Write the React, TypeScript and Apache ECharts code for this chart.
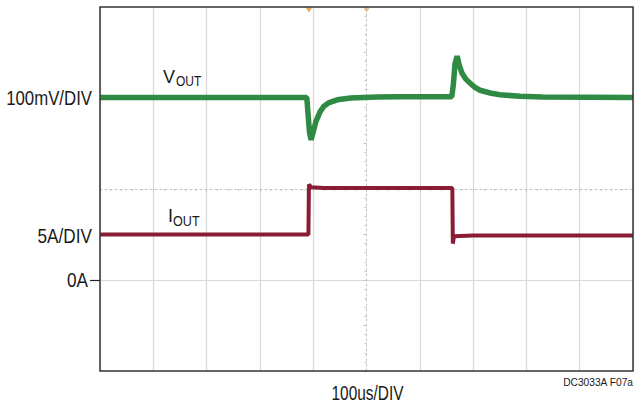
import React, { useEffect, useRef } from "react";
import * as echarts from "echarts";

// time axis: microseconds (100us/DIV, 10 divisions)
const timeTicks = [0, 100, 200, 300, 400, 500, 600, 700, 800, 900, 1000];

// VOUT deviation (mV), 100mV/DIV
const vTime = [0, 388, 390, 393, 396, 400, 405, 413, 420, 430, 445, 470, 520, 560, 600, 660, 663, 666, 670, 674, 679, 686, 694, 703, 713, 732, 750, 788, 830, 1000];
const vMv = [1, 1, -30, -75, -92, -75, -52, -30, -18, -10, -4, 0, 2, 3, 3, 3, 30, 75, 92, 72, 55, 42, 33, 24, 17, 11, 7, 4, 2, 1];

// IOUT (A), 5A/DIV
const iTime = [0, 391, 392, 396, 420, 661, 662, 664, 700, 1000];
const iAmp = [5, 5, 10.5, 10.2, 10.1, 10.1, 4.0, 4.8, 4.9, 4.9];

// trigger markers on the top edge (us)
const markerTime = [392, 500];
const markerColor = ["#e89a2c", "#d9b77a"];

// axis labels
const voltLabel = { value: 0, text: "100mV/DIV" };
const currLabels = [
  { value: 0, text: "0A" },
  { value: 5, text: "5A/DIV" },
];
const timeLabel = { value: 500, text: "100us/DIV" };

const FONT = "'Liberation Sans', Arial, sans-serif";
const INK = "#1a1a1a";

export default function App() {
  const ref = useRef<HTMLDivElement>(null);

  useEffect(() => {
    if (!ref.current) return;
    const chart = echarts.init(ref.current, undefined, { renderer: "svg" });
    const gridColor = "#d8d8d8";
    const centerColor = "#c2c2c2";
    // hide the solid center gridline (drawn dotted by the center axes instead)
    const xSplitColors = timeTicks.map((_, k) => (k === 5 ? "rgba(0,0,0,0)" : gridColor));
    const ySplitColors = [-10, -5, 0, 5, 10, 15, 20, 25, 30].map((v) => (v === 10 ? "rgba(0,0,0,0)" : gridColor));

    chart.setOption({
      animation: false,
      backgroundColor: "#ffffff",
      grid: {
        left: 100,
        right: 2,
        top: 7,
        bottom: 33,
        show: true,
        borderColor: "#333333",
        borderWidth: 1.5,
        backgroundColor: "transparent",
        outerBoundsMode: "none",
        containLabel: false,
        z: 10,
      },
      xAxis: [
        {
          type: "value",
          min: timeTicks[0],
          max: timeTicks[timeTicks.length - 1],
          interval: 100,
          axisLine: { show: false },
          axisTick: { show: false },
          axisLabel: { show: false },
          splitLine: { show: true, lineStyle: { color: xSplitColors, width: 1.2 } },
        },
        {
          type: "value",
          min: 0,
          max: 10,
          interval: 1,
          position: "bottom",
          offset: -182,
          axisLine: { show: true, lineStyle: { color: centerColor, type: [2, 3], width: 1 } },
          axisTick: { show: true, length: 3, lineStyle: { color: centerColor } },
          minorTick: { show: true, splitNumber: 5, length: 2, lineStyle: { color: centerColor } },
          axisLabel: { show: false },
          splitLine: { show: false },
        },
      ],
      yAxis: [
        {
          type: "value",
          min: -10,
          max: 30,
          interval: 5,
          position: "left",
          axisLine: { show: false },
          axisTick: { show: true, customValues: [0], length: 10, lineStyle: { color: "#222", width: 1.2 } },
          axisLabel: { show: false },
          splitLine: { show: true, lineStyle: { color: ySplitColors, width: 1.2 } },
        },
        {
          type: "value",
          min: -600,
          max: 200,
          interval: 100,
          position: "left",
          axisLine: { show: false },
          axisTick: { show: false },
          axisLabel: { show: false },
          splitLine: { show: false },
        },
        {
          type: "value",
          min: 0,
          max: 8,
          interval: 1,
          position: "left",
          offset: -266.5,
          axisLine: { show: true, lineStyle: { color: centerColor, type: [2, 3], width: 1 } },
          axisTick: { show: true, length: 3, lineStyle: { color: centerColor } },
          minorTick: { show: true, splitNumber: 5, length: 2, lineStyle: { color: centerColor } },
          axisLabel: { show: false },
          splitLine: { show: false },
        },
      ],
      series: [
        {
          type: "line",
          name: "VOUT",
          yAxisIndex: 1,
          data: vTime.map((t, k) => [t, vMv[k]]),
          showSymbol: false,
          lineStyle: { color: "#2f8a44", width: 5.5 },
          z: 4,
        },
        {
          type: "line",
          name: "IOUT",
          yAxisIndex: 0,
          data: iTime.map((t, k) => [t, iAmp[k]]),
          showSymbol: false,
          lineStyle: { color: "#8a1c36", width: 4 },
          z: 4,
        },
        {
          type: "scatter",
          yAxisIndex: 0,
          data: markerTime.map((t, k) => ({ value: [t, 30], itemStyle: { color: markerColor[k] } })),
          symbol: "triangle",
          symbolRotate: 180,
          symbolSize: [7, 5],
          symbolOffset: [0, 3],
          z: 5,
        },
      ],
    });

    // condensed-look labels placed through the axes' own scales
    const xLeft = chart.convertToPixel({ xAxisIndex: 0 }, timeTicks[0]) as number;
    const xRight = chart.convertToPixel({ xAxisIndex: 0 }, timeTicks[timeTicks.length - 1]) as number;
    const xMid = chart.convertToPixel({ xAxisIndex: 0 }, timeLabel.value) as number;
    const yBottom = chart.convertToPixel({ yAxisIndex: 0 }, -10) as number;
    const yV = chart.convertToPixel({ yAxisIndex: 1 }, voltLabel.value) as number;
    const lab = (text: string, x: number, y: number, size: number, sx: number, align: string, va = "middle") => ({
      type: "text",
      x,
      y,
      scaleX: sx,
      silent: true,
      style: { text, fontFamily: FONT, fontSize: size, fill: INK, align, verticalAlign: va },
    });

    chart.setOption({
      graphic: [
        lab(voltLabel.text, xLeft - 8, yV, 20, 0.84, "right"),
        lab(currLabels[0].text, xLeft - 12, chart.convertToPixel({ yAxisIndex: 0 }, currLabels[0].value) as number, 20, 0.86, "right"),
        lab(currLabels[1].text, xLeft - 8, chart.convertToPixel({ yAxisIndex: 0 }, currLabels[1].value) as number + 1.5, 20, 0.86, "right"),
        lab(timeLabel.text, xMid + 1, yBottom + 22.5, 19.5, 0.79, "center"),
        lab("DC3033A F07a", xRight, yBottom + 11, 11, 0.93, "right"),
        lab("V", 163, 76.5, 18, 1, "left"),
        lab("OUT", 176, 81, 15, 0.8, "left"),
        lab("I", 168, 216, 18, 1, "left"),
        lab("OUT", 173, 221, 15, 0.84, "left"),
      ],
    });

    return () => chart.dispose();
  }, []);

  return (
    <div
      ref={ref}
      style={{ position: "fixed", left: 0, top: 0, width: 635, height: 404, background: "#fff" }}
    />
  );
}
